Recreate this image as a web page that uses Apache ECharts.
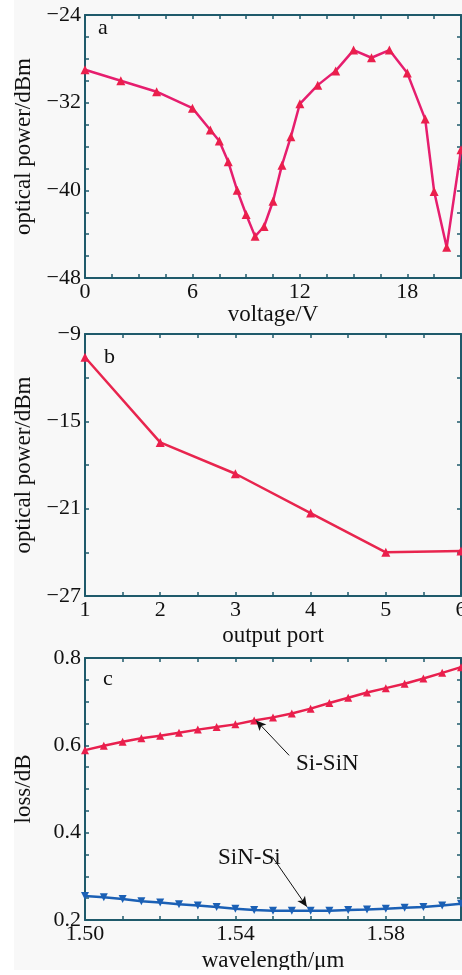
<!DOCTYPE html>
<html>
<head>
<meta charset="utf-8">
<script src="https://cdn.jsdelivr.net/npm/echarts@6/dist/echarts.min.js"></script>
<style>
  html, body { margin: 0; padding: 0; background: #fff; }
  #chart { position: absolute; left: 14px; top: 0; width: 448px; height: 970px; background: #f8f8f8; }
</style>
</head>
<body>
<div id="chart"></div>
<script>
// panel a: optical power vs voltage
var voltA = [0, 2, 4, 6, 7, 7.5, 8, 8.5, 9, 9.5, 10, 10.5, 11, 11.5, 12, 13, 14, 15, 16, 17, 18, 19, 19.5, 20.2, 21];
var powerA = [-29.0, -30.0, -31.0, -32.5, -34.5, -35.5, -37.4, -40.0, -42.2, -44.2, -43.3, -41.0, -37.7, -35.1, -32.1, -30.4, -29.1, -27.2, -27.9, -27.2, -29.3, -33.5, -40.1, -45.2, -36.3];

// panel b: optical power vs output port
var ports = [1, 2, 3, 4, 5, 6];
var powerB = [-10.6, -16.45, -18.6, -21.3, -24.0, -23.9];

// panel c: loss vs wavelength
var wl = [1.500, 1.505, 1.510, 1.515, 1.520, 1.525, 1.530, 1.535, 1.540, 1.545, 1.550,
          1.555, 1.560, 1.565, 1.570, 1.575, 1.580, 1.585, 1.590, 1.595, 1.600];
var lossSiSiN = [0.589, 0.599, 0.608, 0.616, 0.622, 0.629, 0.636, 0.642, 0.648, 0.657, 0.664,
                 0.673, 0.684, 0.697, 0.709, 0.721, 0.731, 0.741, 0.753, 0.766, 0.779];
var lossSiNSi = [0.255, 0.252, 0.248, 0.243, 0.240, 0.236, 0.233, 0.230, 0.226, 0.223, 0.221,
                 0.221, 0.221, 0.221, 0.223, 0.224, 0.226, 0.228, 0.230, 0.233, 0.237];

var font = '"Liberation Serif", "DejaVu Serif", serif';
var frame = '#1f5a6b';

function minus(v) {
  return v < 0 ? '\u2212' + Math.abs(v) : String(v);
}

var grids = [
  { left: 71, top: 15, width: 376, height: 263, outerBoundsMode: 'none', containLabel: false },
  { left: 71, top: 334, width: 376, height: 262, outerBoundsMode: 'none', containLabel: false },
  { left: 71, top: 658, width: 376, height: 262, outerBoundsMode: 'none', containLabel: false }
];

var xAxes = [];
var yAxes = [];

function addAxes(g, x, y) {
  var tick = { show: true, inside: true, length: 4, lineStyle: { color: frame, width: 1.5 } };
  var line = { show: true, onZero: false, lineStyle: { color: frame, width: 2 } };
  xAxes.push({
    gridIndex: g, type: 'value', min: x.min, max: x.max, interval: x.step,
    name: x.name, nameLocation: 'middle', nameGap: x.gap,
    nameTextStyle: { fontFamily: font, fontSize: 23, color: '#111' },
    axisLine: line, axisTick: tick, splitLine: { show: false },
    axisLabel: { margin: 3, fontFamily: font, fontSize: 22, color: '#111', showMaxLabel: x.showMax, formatter: x.fmt }
  });
  xAxes.push({
    gridIndex: g, type: 'value', position: 'top', min: x.min, max: x.max, interval: x.step,
    axisLine: line, axisTick: tick, splitLine: { show: false }, axisLabel: { show: false }
  });
  yAxes.push({
    gridIndex: g, type: 'value', min: y.min, max: y.max, interval: y.step,
    name: y.name, nameLocation: 'middle', nameGap: y.gap, nameRotate: 90,
    nameTextStyle: { fontFamily: font, fontSize: 23, color: '#111' },
    axisLine: line, axisTick: tick, splitLine: { show: false },
    axisLabel: { margin: 4, fontFamily: font, fontSize: 22, color: '#111', formatter: y.fmt }
  });
  yAxes.push({
    gridIndex: g, type: 'value', position: 'right', min: y.min, max: y.max, interval: y.step,
    axisLine: line, axisTick: tick, splitLine: { show: false }, axisLabel: { show: false }
  });
}

addAxes(0,
  { min: 0, max: 21, step: 1.5, name: 'voltage/V', gap: 24, showMax: false,
    fmt: function (v) { return Math.round(v * 10) % 60 === 0 ? String(v) : ''; } },
  { min: -48, max: -24, step: 2, name: 'optical power/dBm', gap: 50,
    fmt: function (v) { return (v + 48) % 8 === 0 ? minus(v) : ''; } });
addAxes(1,
  { min: 1, max: 6, step: 0.5, name: 'output port', gap: 28, showMax: true,
    fmt: function (v) { return Math.round(v * 10) % 10 === 0 ? String(v) : ''; } },
  { min: -27, max: -9, step: 3, name: 'optical power/dBm', gap: 50,
    fmt: function (v) { return (v + 27) % 6 === 0 ? minus(v) : ''; } });
addAxes(2,
  { min: 1.5, max: 1.6, step: 0.01, name: 'wavelength/\u03bcm', gap: 29, showMax: false,
    fmt: function (v) { return Math.round((v - 1.5) * 100) % 4 === 0 ? v.toFixed(2) : ''; } },
  { min: 0.2, max: 0.8, step: 0.05, name: 'loss/dB', gap: 50,
    fmt: function (v) { return Math.round(v * 100) % 20 === 0 ? v.toFixed(1) : ''; } });

function pairs(xs, ys) {
  return xs.map(function (x, i) { return [x, ys[i]]; });
}

var arrowStyle = {
  silent: true, symbol: ['none', 'arrow'], symbolSize: [7, 10],
  label: { show: false },
  lineStyle: { color: '#111', width: 1, type: 'solid' }
};

var option = {
  animation: false,
  grid: grids,
  xAxis: xAxes,
  yAxis: yAxes,
  series: [
    {
      type: 'line', xAxisIndex: 0, yAxisIndex: 0,
      data: pairs(voltA, powerA),
      symbol: 'triangle', symbolSize: 9,
      lineStyle: { color: '#e61e6e', width: 2.5 },
      itemStyle: { color: '#ea1f4c' }
    },
    {
      type: 'line', xAxisIndex: 2, yAxisIndex: 2,
      data: pairs(ports, powerB),
      symbol: 'triangle', symbolSize: 9,
      lineStyle: { color: '#e8254e', width: 2.5 },
      itemStyle: { color: '#ea1f4c' }
    },
    {
      type: 'line', xAxisIndex: 4, yAxisIndex: 4,
      data: pairs(wl, lossSiSiN),
      symbol: 'triangle', symbolSize: 8,
      lineStyle: { color: '#e8204e', width: 2.5 },
      itemStyle: { color: '#ea1f4c' },
      markLine: Object.assign({ data: [[{ coord: [1.5543, 0.577] }, { coord: [1.5455, 0.657] }]] }, arrowStyle)
    },
    {
      type: 'line', xAxisIndex: 4, yAxisIndex: 4,
      data: pairs(wl, lossSiNSi),
      symbol: 'triangle', symbolRotate: 180, symbolSize: 8,
      lineStyle: { color: '#1b60b5', width: 2.5 },
      itemStyle: { color: '#1b60b5' },
      markLine: Object.assign({ data: [[{ coord: [1.5498, 0.345] }, { coord: [1.5590, 0.2305] }]] }, arrowStyle)
    }
  ],
  graphic: [
    { type: 'text', left: 84, top: 17, style: { text: 'a', font: '22px ' + font, fill: '#111' } },
    { type: 'text', left: 90, top: 346, style: { text: 'b', font: '22px ' + font, fill: '#111' } },
    { type: 'text', left: 89, top: 668, style: { text: 'c', font: '22px ' + font, fill: '#111' } },
    { type: 'text', left: 282, top: 752, style: { text: 'Si-SiN', font: '23px ' + font, fill: '#111' } },
    { type: 'text', left: 204, top: 846, style: { text: 'SiN-Si', font: '23px ' + font, fill: '#111' } }
  ]
};

var myChart = echarts.init(document.getElementById('chart'));
myChart.setOption(option);
window.addEventListener('resize', function () { myChart.resize(); });
</script>
</body>
</html>
